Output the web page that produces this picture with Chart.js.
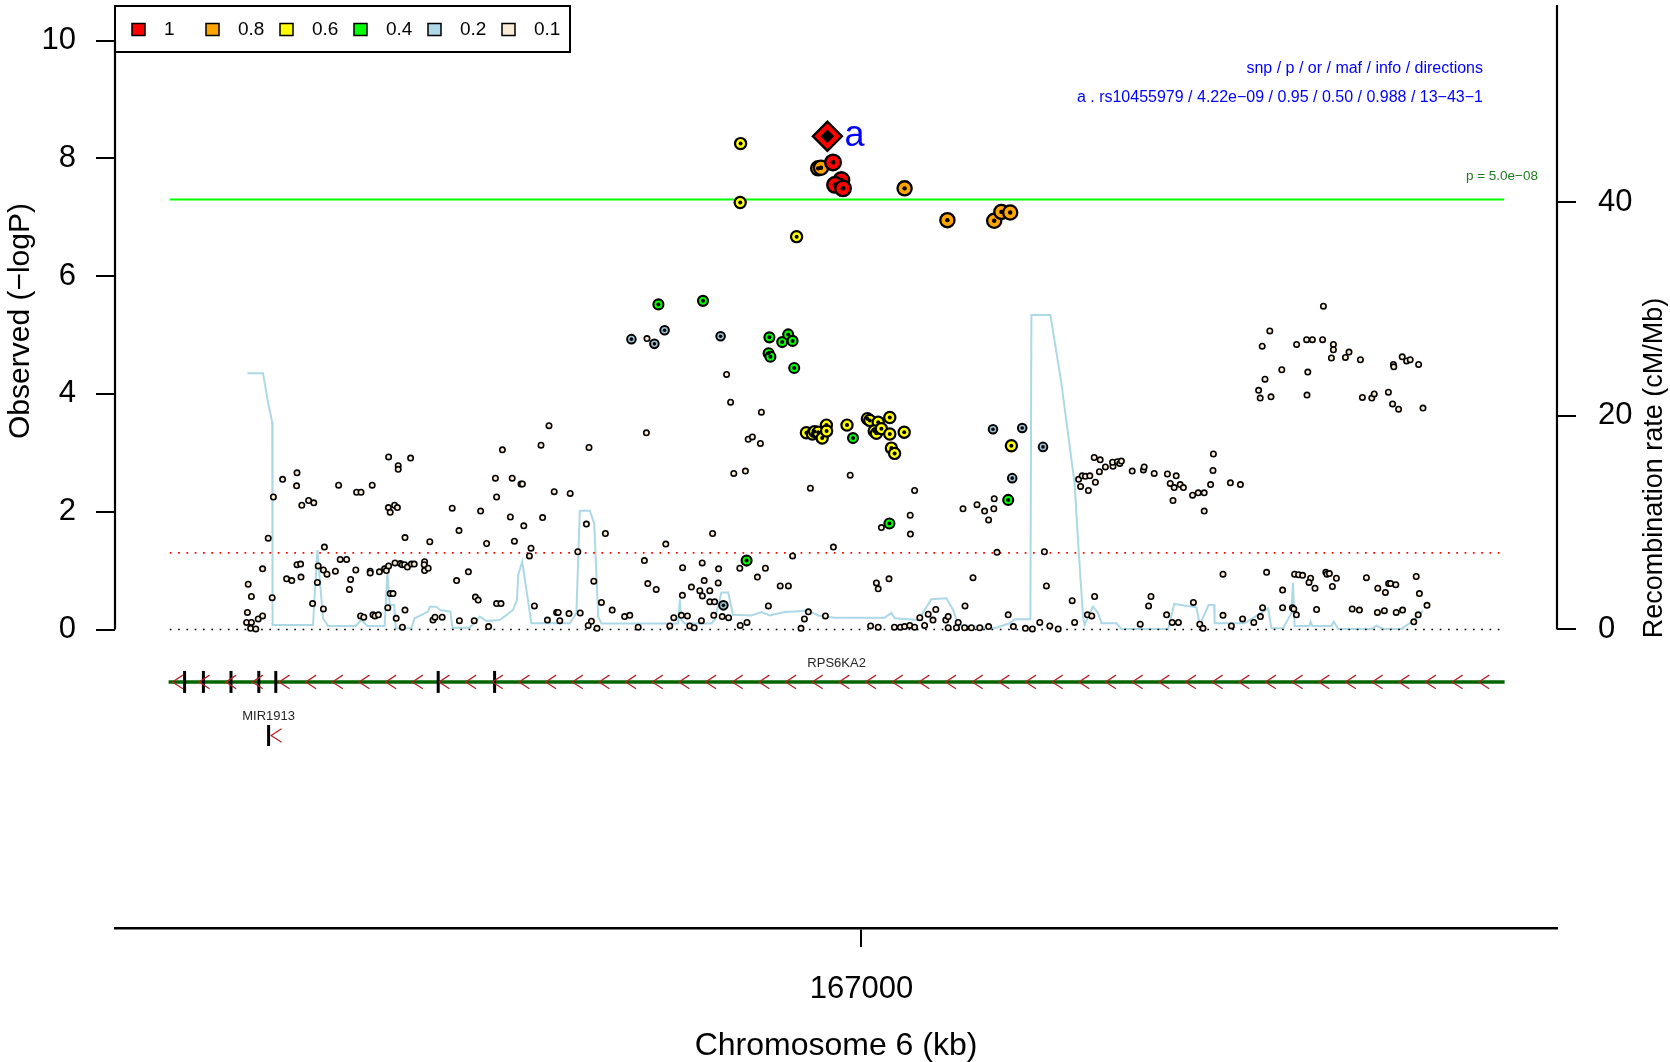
<!DOCTYPE html>
<html><head><meta charset="utf-8">
<script src="https://cdn.jsdelivr.net/npm/chart.js@4.4.1/dist/chart.umd.min.js"></script>
<style>html,body{margin:0;padding:0;background:#fff;}#wrap{width:1670px;height:1062px;}</style>
</head><body><div id="wrap"><canvas id="c" width="1670" height="1062"></canvas></div>
<script>
// ---------------- DATA ----------------
const xTicks = [167000];
const yTicks = [0, 2, 4, 6, 8, 10];
const recombTicks = [0, 20, 40];
const ldLabels = ['1', '0.8', '0.6', '0.4', '0.2', '0.1'];
const ldColors = ['#FF0000', '#FFA500', '#FFFF00', '#00FF00', '#ADD8E6', '#FAEBD7'];
const gwsLogP = 7.301;   // p = 5.0e-08
const sugLogP = 1.301;   // p = 0.05
const refLineRange = [166827.1, 167160.7];
const leadSnp = [[166991.5, 8.375]];
const ld1 = [[166992.9, 7.93], [166995.0, 7.63], [166993.4, 7.55], [166995.4, 7.49]];
const ld08 = [[166989.2, 7.83], [166989.9, 7.84], [167010.8, 7.49], [167021.5, 6.95], [167033.2, 6.94], [167035.0, 7.09], [167037.2, 7.08]];
const ld06 = [[166969.8, 8.25], [166969.7, 7.25], [166983.8, 6.67],
  [166986.25, 3.34], [166987.75, 3.32], [166988.3, 3.36], [166989.2, 3.35], [166990.2, 3.25], [166991.25, 3.47], [166991.3, 3.37],
  [166996.4, 3.47], [167001.5, 3.58], [167002.1, 3.55], [167004.2, 3.52], [167007.1, 3.60], [167003.2, 3.37], [167003.75, 3.33],
  [167005.0, 3.41], [167007.1, 3.32], [167010.7, 3.35], [167007.5, 3.08], [167008.3, 2.99], [167037.5, 3.12]];
const ld04 = [[166949.25, 5.52], [166960.4, 5.58], [166977.0, 4.96], [166980.2, 4.88], [166981.7, 5.01], [166982.8, 4.90],
  [166976.8, 4.69], [166977.25, 4.63], [166983.2, 4.44], [166997.9, 3.25], [167007.0, 1.80], [166971.3, 1.17], [167036.7, 2.20]];
const ld02 = [[166942.5, 4.93], [166948.25, 4.85], [166950.8, 5.08], [166964.8, 4.98], [166965.5, 0.41],
  [167032.9, 3.40], [167040.2, 3.42], [167045.4, 3.10], [167037.7, 2.57]];
const ld01 = [
  [166846.7,0.77],[166847.5,0.56],[166846.5,0.29],[166846.3,0.12],[166847.5,0.12],[166847.3,0.02],[166848.6,0.01],[166849.2,0.18],
  [166850.3,0.23],[166850.3,1.03],[166851.7,1.55],[166852.7,0.54],[166853.0,2.25],[166855.3,2.55],[166858.9,2.66],[166858.8,2.44],
  [166860.1,2.11],[166861.8,2.19],[166863.1,2.15],[166856.3,0.86],[166857.6,0.83],[166858.9,1.10],[166859.8,1.11],[166859.9,0.89],
  [166862.8,0.44],[166864.2,1.08],[166864.0,0.80],[166865.5,1.01],[166866.4,0.94],[166865.5,0.35],[166865.75,1.40],[166868.5,0.99],
  [166869.3,2.45],[166869.7,1.19],[166871.3,1.19],[166872.0,0.68],[166872.3,0.85],[166873.6,1.01],[166873.8,2.33],[166874.9,2.33],
  [166874.8,0.23],[166875.6,0.21],[166877.2,0.99],[166877.2,0.96],[166877.7,2.45],[166877.9,0.25],[166878.4,0.23],[166879.25,0.25],
  [166879.5,0.98],[166880.8,1.03],[166881.25,1.00],[166881.8,1.08],[166881.6,0.37],[166882.2,0.61],[166882.9,0.61],[166881.8,2.93],
  [166884.2,2.78],[166884.2,2.72],[166887.3,2.91],[166881.75,2.07],[166882.2,1.99],[166883.3,2.11],[166884.0,2.07],[166883.7,0.19],
  [166883.4,1.13],[166884.75,1.12],[166885.2,1.10],[166885.8,1.10],[166886.5,1.06],[166887.5,1.11],[166888.2,1.11],[166885.9,0.33],
  [166885.25,0.04],[166885.9,1.56],[166890.8,1.15],[166890.7,1.10],[166890.8,1.00],[166891.7,1.04],[166892.1,1.49],[166892.9,0.16],
  [166893.4,0.21],[166895.2,0.21],[166897.7,2.06],[166899.4,1.68],[166898.8,0.83],[166901.75,0.98],[166899.5,0.15],[166903.2,0.15],
  [166903.5,0.55],[166904.2,0.50],[166904.8,2.01],[166906.3,1.46],[166906.8,0.05],[166908.5,2.57],[166908.8,2.25],[166910.25,3.05],
  [166908.8,0.44],[166909.9,0.44],[166912.25,1.91],[166912.7,2.57],[166913.25,1.50],[166914.9,2.47],[166915.25,2.47],[166915.6,1.76],
  [166917.0,1.25],[166917.4,1.38],[166918.25,0.40],[166919.9,3.13],[166920.3,1.90],[166921.9,3.46],[166921.5,0.16],[166923.2,2.34],
  [166923.8,0.29],[166924.2,0.29],[166924.6,0.15],[166926.9,0.27],[166927.2,2.31],[166929.1,1.32],[166929.7,0.28],[166931.25,1.79],
  [166931.9,3.09],[166933.1,0.82],[166932.5,0.14],[166931.7,0.07],[166933.9,0.02],[166935.0,0.46],
  [166936.0,1.63],[166937.7,0.33],[166940.8,0.22],[166942.1,0.24],[166944.2,0.04],[166946.25,3.34],[166946.4,4.94],[166945.75,1.17],
  [166946.6,0.78],[166948.7,0.68],[166951.1,1.45],[166952.1,0.06],[166953.1,0.20],[166955.0,0.24],[166955.25,0.58],[166955.3,1.05],
  [166956.5,0.23],[166957.1,0.06],[166957.5,0.72],[166958.2,0.03],[166959.6,0.66],[166960.2,1.13],[166960.25,0.57],[166960.0,0.15],
  [166960.7,0.83],[166962.1,0.66],[166962.1,0.47],[166963.3,0.47],[166962.8,1.63],[166964.2,0.79],[166964.3,1.03],[166963.1,0.24],
  [166965.2,0.22],[166966.8,0.20],[166966.3,4.33],[166967.3,3.86],[166969.7,0.07],[166971.4,0.12],[166969.6,1.04],[166971.7,3.23],
  [166972.75,3.27],[166974.75,3.16],[166975.0,3.69],[166968.1,2.65],[166971.0,2.69],[166974.0,0.89],[166976.0,1.04],[166976.75,0.40],
  [166979.7,0.74],[166981.75,0.74],[166982.8,1.25],[166984.9,0.02],[166985.75,0.18],[166986.75,0.30],[166987.25,2.40],[166991.0,0.23],
  [166993.0,1.40],[166997.2,2.62],[167002.3,0.06],[167004.2,0.04],[167003.75,0.79],[167004.2,0.69],[167006.9,0.86],[167005.0,1.73],
  [167008.25,0.04],[167009.75,0.04],[167010.8,0.05],[167012.1,0.07],[167013.3,0.04],[167014.6,0.20],[167015.8,0.07],[167016.7,0.26],
  [167018.6,0.34],[167017.9,0.16],[167021.1,0.16],[167021.7,0.22],[167021.7,0.03],[167012.2,1.94],[167012.25,1.62],[167013.3,2.36],
  [167023.75,0.03],[167024.2,0.12],[167025.8,0.03],[167027.5,0.03],[167029.6,0.03],[167031.8,0.05],[167027.9,0.88],[167025.9,0.40],
  [167033.9,1.31],[167036.7,0.25],[167038.0,0.05],[167041.0,0.02],[167042.75,0.01],[167044.6,0.12],[167047.1,0.06],[167049.2,0.01],
  [167046.25,0.74],[167045.75,1.32],[167052.7,0.49],[167053.3,0.12],[167056.5,0.25],[167057.6,0.23],[167058.3,0.56],[167025.4,2.05],
  [167028.9,2.12],[167030.8,2.01],[167031.8,1.86],[167033.2,2.22],[167033.1,2.05],
  [167054.3,2.55],[167054.8,2.43],[167055.2,2.61],[167056.0,2.60],[167057.1,2.61],[167056.75,2.36],[167058.5,2.50],[167058.2,2.92],
  [167059.7,2.88],[167059.5,2.68],[167061.0,2.76],[167062.9,2.77],[167062.8,2.84],[167064.0,2.85],[167064.6,2.82],[167065.0,2.86],
  [167067.7,2.69],[167070.5,2.71],[167070.7,2.76],[167073.2,2.65],[167076.5,2.64],[167077.2,2.48],[167078.7,2.61],[167078.2,2.41],
  [167079.7,2.46],[167080.5,2.41],[167077.9,2.19],[167082.8,2.28],[167084.2,2.32],
  [167069.7,0.09],[167071.8,0.40],[167072.4,0.56],[167076.3,0.25],[167077.7,0.12],[167079.25,0.12],[167083.0,0.46],[167084.6,0.09],
  [167085.7,2.32],[167085.7,2.01],[167087.3,2.46],[167087.9,2.70],[167088.0,2.98],[167092.25,2.49],[167094.75,2.46],
  [167099.3,4.06],[167099.7,3.93],[167102.4,3.95],[167100.9,4.25],[167100.2,4.81],[167102.1,5.07],[167105.1,4.41],[167108.8,4.84],
  [167111.3,4.92],[167112.75,4.92],[167115.5,5.49],[167115.3,4.92],[167111.6,4.37],[167111.4,3.98],[167118.0,4.84],[167118.0,4.75],
  [167117.5,4.61],[167121.0,4.62],[167121.9,4.71],[167124.75,4.58],[167125.25,3.94],[167127.6,3.93],[167128.2,4.00],[167131.75,4.03],
  [167132.8,3.83],[167134.3,3.74],[167133.0,4.50],[167133.1,4.46],[167135.2,4.63],[167136.3,4.56],[167137.2,4.58],[167139.3,4.50],
  [167140.4,3.76],
  [167085.4,0.02],[167090.4,0.94],[167090.4,0.24],[167092.5,0.06],[167095.3,0.18],[167098.1,0.12],[167099.75,0.22],[167100.3,0.37],
  [167101.3,0.97],[167105.3,0.67],[167105.3,0.37],[167107.75,0.37],[167108.1,0.35],[167108.75,0.25],[167108.3,0.94],[167109.3,0.93],
  [167110.3,0.92],[167112.3,0.87],[167111.9,0.80],[167113.4,0.70],[167113.8,0.34],[167116.1,0.97],[167116.4,0.94],[167117.0,0.95],
  [167118.75,0.87],[167117.75,0.73],[167122.7,0.35],[167124.5,0.33],[167126.25,0.88],[167129.1,0.70],[167131.0,0.63],[167129.0,0.29],
  [167130.75,0.32],[167131.8,0.78],[167132.3,0.78],[167133.6,0.76],[167133.7,0.29],[167135.3,0.33],[167138.7,0.90],[167139.5,0.61],
  [167141.4,0.41],[167138.1,0.13],[167139.2,0.25]
];
// recombination rate (cM/Mb) along the region
const recomb = [
  [166846.5,24.0],[166850.4,24.0],[166851.7,21.2],[166852.7,19.4],[166852.8,0.42],[166862.9,0.42],[166864.0,7.44],[166865.4,1.05],
  [166866.7,0.33],[166873.5,0.33],[166875.0,0.89],[166876.5,0.33],[166880.8,0.33],[166881.5,5.41],[166882.1,2.29],[166883.2,2.29],
  [166883.6,0.11],[166887.5,0.11],[166888.3,1.05],[166891.7,1.67],[166892.1,2.14],[166893.75,2.14],[166894.6,1.83],[166897.25,1.67],
  [166897.75,0.17],[166902.1,0.17],[166904.6,1.20],[166906.25,0.80],[166909.6,0.89],[166912.9,1.83],[166913.9,2.76],[166914.2,5.10],
  [166915.2,6.35],[166917.5,0.58],[166927.1,0.58],[166928.75,1.52],[166929.6,11.12],[166932.1,11.12],[166933.2,9.94],[166934.2,1.22],
  [166935.0,0.57],[166954.2,0.57],[166954.6,2.83],[166955.0,0.89],[166955.8,0.57],[166962.5,0.57],[166963.3,0.89],[166965.0,3.47],
  [166966.7,3.47],[166967.9,1.38],[166972.5,1.31],[166975.0,1.64],[166977.1,1.31],[166980.8,1.64],[166986.7,1.76],[166989.2,1.31],
  [166993.3,1.11],[167005.8,1.11],[167007.5,1.55],[167008.3,1.05],[167014.2,0.89],[167017.5,2.83],[167021.25,2.92],[167022.9,1.86],
  [167024.2,0.42],[167033.3,0.11],[167037.1,0.58],[167038.3,0.95],[167042.25,0.95],[167042.5,29.45],[167047.25,29.45],[167050.0,23.05],
  [167053.3,13.69],[167054.2,8.07],[167055.4,1.20],[167055.8,0.42],[167056.7,1.20],[167057.9,2.14],[167059.2,1.52],[167060.0,0.58],
  [167063.75,0.58],[167065.0,0.05],[167076.7,0.05],[167078.2,2.39],[167083.75,2.08],[167084.6,0.42],[167086.8,2.29],[167088.2,2.29],
  [167088.3,0.58],[167095.8,0.58],[167101.7,1.98],[167102.5,0.11],[167105.4,0.11],[167107.5,1.52],[167107.9,4.38],[167108.3,0.33],
  [167112.0,0.33],[167112.3,0.73],[167112.75,0.33],[167117.5,0.33],[167118.1,0.73],[167119.2,0.05],[167127.5,0.05],[167128.75,0.36],
  [167130.4,0.05],[167135.0,0.05],[167138.3,0.89],[167140.4,1.76]
];
const genes = ['RPS6KA2', 'MIR1913'];
const geneRPS = [166826.8, 167160.8];
const geneExons = [166830.8, 166835.5, 166842.4, 166849.35, 166853.6, 166894.2, 166908.3];
const geneMIR = [166851.8];
const leadInfoHeader = 'snp / p / or / maf / info / directions';
const leadInfo = 'a . rs10455979 / 4.22e\u221209 / 0.95 / 0.50 / 0.988 / 13\u221243\u22121';

// ---------------- LAYOUT / STYLE ----------------
const FONT = "'Liberation Sans', Arial, Helvetica, sans-serif";
Chart.defaults.font.family = FONT;
Chart.defaults.color = '#000';
const TRACK1_Y = -0.89, TRACK2_Y = -1.80;
const pts = a => a.map(([x, y]) => ({x, y}));
const hline = (v) => refLineRange.map(x => ({x, y: v}));

const scatter = (data, r, fill, bw, order, style) => ({
  type: 'scatter', data: pts(data), pointRadius: r, pointHoverRadius: r,
  pointBackgroundColor: fill, pointBorderColor: '#000', pointBorderWidth: bw,
  pointStyle: style || 'circle', order
});
const dot = (data, r, order, style) => ({
  type: 'scatter', data: pts(data), pointRadius: r, pointHoverRadius: r,
  pointBackgroundColor: '#000', pointBorderColor: '#000', pointBorderWidth: 0,
  pointStyle: style || 'circle', order
});

const datasets = [
  {type: 'line', data: pts(recomb), yAxisID: 'y2', borderColor: '#ADD8E6', borderWidth: 2, pointRadius: 0, tension: 0, order: 30},
  {type: 'line', data: hline(gwsLogP), borderColor: '#00FF00', borderWidth: 1.8, pointRadius: 0, order: 29},
  {type: 'line', data: hline(sugLogP), borderColor: '#FF0000', borderWidth: 1.7, borderDash: [1.7, 6.6], pointRadius: 0, order: 29},
  {type: 'line', data: hline(0), borderColor: '#000', borderWidth: 1.7, borderDash: [1.7, 6.6], pointRadius: 0, order: 29},
  // gene track
  {type: 'line', data: geneRPS.map(x => ({x, y: TRACK1_Y})), borderColor: '#006400', borderWidth: 3.5, pointRadius: 0, order: 28},
  {type: 'scatter', data: geneExons.map(x => ({x, y: TRACK1_Y})), pointStyle: 'line', rotation: 90, pointRadius: 11, pointBorderWidth: 3, pointBorderColor: '#000', order: 27},
  {type: 'scatter', data: geneMIR.map(x => ({x, y: TRACK2_Y})), pointStyle: 'line', rotation: 90, pointRadius: 10.5, pointBorderWidth: 3, pointBorderColor: '#000', order: 27},
  // SNPs
  scatter(ld01, 2.7, ldColors[5], 1.6, 20),
  scatter(ld02, 4.3, '#9DC3D3', 2, 18), dot(ld02, 1.8, 17),
  scatter(ld04, 5.0, ldColors[3], 2.1, 16), dot(ld04, 2.0, 15),
  scatter(ld06, 5.6, ldColors[2], 2.2, 14), dot(ld06, 2.0, 13),
  scatter(ld08, 7.1, ldColors[1], 2.3, 12), dot(ld08, 2.2, 11),
  scatter(ld1, 7.8, ldColors[0], 2.4, 10), dot(ld1, 2.4, 9),
  scatter(leadSnp, 14.5, ldColors[0], 2.4, 8, 'rectRot'), dot(leadSnp, 6.8, 7, 'rectRot')
];

const overlay = {
  id: 'overlay',
  afterDatasetsDraw(chart) {
    const {ctx, chartArea: ca, scales: {x, y, y2}} = chart;
    ctx.save();
    // chevrons on gene line (minus strand)
    const gy = y.getPixelForValue(TRACK1_Y);
    const gx0 = x.getPixelForValue(geneRPS[0]), gx1 = x.getPixelForValue(geneRPS[1]);
    ctx.strokeStyle = '#B22222'; ctx.lineWidth = 1.2;
    const chev = (px, py) => { ctx.beginPath(); ctx.moveTo(px + 10.5, py - 6.8); ctx.lineTo(px, py); ctx.lineTo(px + 10.5, py + 6.8); ctx.stroke(); };
    for (let px = gx0 + 3.8; px < gx1 - 4; px += 26.66) chev(px, gy);
    chev(x.getPixelForValue(geneMIR[0]) + 2.5, y.getPixelForValue(TRACK2_Y));
    // gene labels
    ctx.fillStyle = '#262626'; ctx.font = '13px ' + FONT; ctx.textAlign = 'center'; ctx.textBaseline = 'middle';
    ctx.fillText(genes[0], (gx0 + gx1) / 2, gy - 18);
    ctx.fillText(genes[1], x.getPixelForValue(geneMIR[0]), y.getPixelForValue(TRACK2_Y) - 19);
    // lead snp label
    const lx = x.getPixelForValue(leadSnp[0][0]), ly = y.getPixelForValue(leadSnp[0][1]);
    ctx.fillStyle = '#0000FF'; ctx.font = '36px ' + FONT; ctx.textAlign = 'left'; ctx.textBaseline = 'alphabetic';
    ctx.fillText('a', lx + 17, ly + 9.5);
    // info text
    ctx.font = '16px ' + FONT; ctx.textAlign = 'right'; ctx.textBaseline = 'middle';
    ctx.fillText(leadInfoHeader, 1483, 69);
    ctx.fillText(leadInfo, 1483, 98);
    // threshold label
    ctx.fillStyle = '#1E7B1E'; ctx.font = '13.5px ' + FONT;
    ctx.fillText('p = 5.0e\u221208', 1538, 176);
    // axis lines
    ctx.strokeStyle = '#000'; ctx.lineWidth = 2.2;
    ctx.beginPath(); ctx.moveTo(ca.left, y.getPixelForValue(yTicks[0])); ctx.lineTo(ca.left, y.getPixelForValue(yTicks[yTicks.length - 1])); ctx.stroke();
    ctx.beginPath(); ctx.moveTo(ca.right, y2.getPixelForValue(recombTicks[0])); ctx.lineTo(ca.right, ca.top); ctx.stroke();
    // axis titles
    ctx.fillStyle = '#000'; ctx.textAlign = 'center'; ctx.textBaseline = 'middle';
    ctx.font = '30px ' + FONT;
    ctx.save(); ctx.translate(21, 321); ctx.rotate(-Math.PI / 2); ctx.fillText('Observed (\u2212logP)', 0, 0); ctx.restore();
    ctx.font = '27px ' + FONT;
    ctx.save(); ctx.translate(1655, 468); ctx.rotate(-Math.PI / 2); ctx.fillText('Recombination rate (cM/Mb)', 0, 0); ctx.restore();
    ctx.font = '32px ' + FONT;
    ctx.fillText('Chromosome 6 (kb)', 836, 1046);
    // legend
    ctx.lineWidth = 2; ctx.strokeRect(115, 6, 455, 46);
    ctx.font = '19px ' + FONT; ctx.textAlign = 'left';
    ctx.lineWidth = 1.5;
    ldLabels.forEach((lab, i) => {
      const bx = 132 + i * 74;
      ctx.fillStyle = ldColors[i]; ctx.fillRect(bx, 23.5, 13, 12); ctx.strokeRect(bx, 23.5, 13, 12);
      ctx.fillStyle = '#000'; ctx.fillText(lab, bx + 32, 30);
    });
    ctx.restore();
  }
};

new Chart(document.getElementById('c'), {
  data: {datasets},
  options: {
    responsive: false, animation: false, devicePixelRatio: 1,
    layout: {autoPadding: false, padding: {top: 5, left: 0, right: 0, bottom: 0}},
    plugins: {legend: {display: false}, tooltip: {enabled: false}, title: {display: false}},
    scales: {
      x: {
        type: 'linear', position: 'bottom', min: 166813.4, max: 167173.9,
        afterBuildTicks: a => { a.ticks = xTicks.map(v => ({value: v})); },
        ticks: {callback: v => String(v), font: {size: 31}, padding: 24, maxRotation: 0, autoSkip: false, color: '#000'},
        grid: {drawOnChartArea: false, drawTicks: true, tickLength: 19, color: '#000', lineWidth: 2},
        border: {display: true, color: '#000', width: 2.4},
        afterFit: s => { s.height = 134; s.paddingLeft = 0; s.paddingRight = 0; }
      },
      y: {
        type: 'linear', position: 'left', min: -5.068, max: 10.603,
        afterBuildTicks: a => { a.ticks = yTicks.map(v => ({value: v})); },
        ticks: {callback: v => String(v), font: {size: 31, lineHeight: 0.25}, padding: 20, color: '#000'},
        grid: {drawOnChartArea: false, drawTicks: true, tickLength: 19, color: '#000', lineWidth: 2},
        border: {display: false},
        afterFit: s => { s.width = 115; s.paddingTop = 0; s.paddingBottom = 0; }
      },
      y2: {
        type: 'linear', position: 'right', min: -27.95, max: 58.47,
        afterBuildTicks: a => { a.ticks = recombTicks.map(v => ({value: v})); },
        ticks: {callback: v => String(v), font: {size: 31, lineHeight: 0.25}, padding: 22, color: '#000'},
        grid: {drawOnChartArea: false, drawTicks: true, tickLength: 19, color: '#000', lineWidth: 2},
        border: {display: false},
        afterFit: s => { s.width = 113; s.paddingTop = 0; s.paddingBottom = 0; }
      }
    }
  },
  plugins: [overlay]
});
</script></body></html>
